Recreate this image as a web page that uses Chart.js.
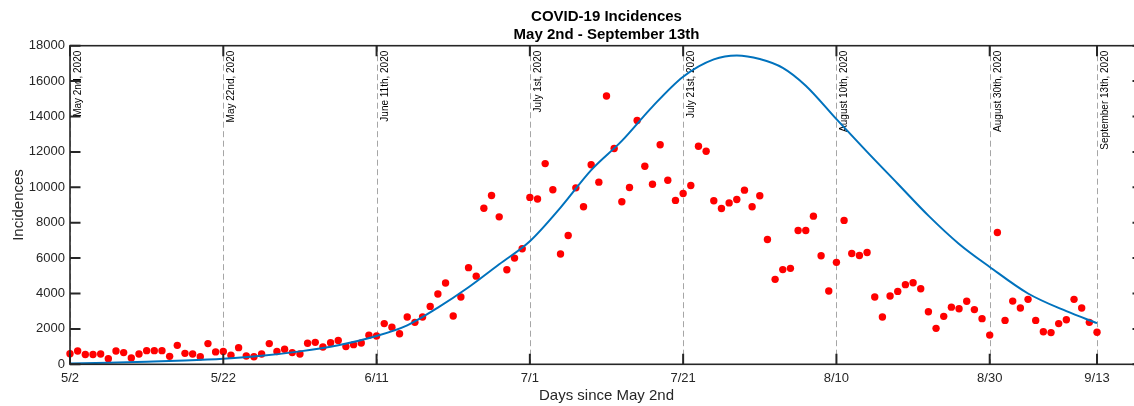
<!DOCTYPE html>
<html>
<head>
<meta charset="utf-8">
<script src="https://cdn.jsdelivr.net/npm/chart.js@4"></script>
<style>
  html, body { margin: 0; padding: 0; overflow: hidden; background: #fff; }
</style>
</head>
<body>
<canvas id="chart" width="1150" height="406"></canvas>
<script>
// daily incidences, day 0 = May 2nd
const incidences = [
    600, 750, 550, 550, 580, 320, 750, 660, 360, 580,
    770, 770, 770, 450, 1070, 620, 580, 430, 1170, 700,
    720, 510, 940, 470, 430, 580, 1170, 720, 850, 660,
    580, 1190, 1240, 980, 1220, 1350, 1000, 1110, 1200, 1640,
    1600, 2300, 2100, 1730, 2670, 2370, 2670, 3270, 3970, 4590,
    2730, 3800, 5460, 4980, 8820, 9540, 8330, 5340, 6000, 6530,
    9430, 9340, 11340, 9860, 6230, 7280, 9970, 8900, 11270, 10290,
    15160, 12190, 9180, 9990, 13770, 11190, 10170, 12400, 10400, 9260,
    9650, 10100, 12320, 12040, 9240, 8800, 9120, 9310, 9840, 8900,
    9520, 7050, 4800, 5350, 5420, 7560, 7560, 8370, 6130, 4140,
    5760, 8130, 6260, 6150, 6320, 3800, 2670, 3860, 4120, 4500,
    4610, 4270, 2970, 2030, 2710, 3230, 3140, 3560, 3090, 2580,
    1650, 7450, 2480, 3570, 3180, 3670, 2480, 1840, 1790, 2300,
    2520, 3670, 3180, 2370, 1810
]

// fitted curve
const curveDays = [0, 5, 10, 15, 20, 25, 30, 35, 40, 44, 48, 52, 56, 60, 64, 68, 72, 76, 80, 84, 87, 90, 93, 96, 100, 104, 108, 112, 116, 120, 125, 130, 134]
const curveValues = [50, 90, 150, 220, 320, 480, 730, 1080, 1600, 2200, 3200, 4350, 5650, 6950, 8850, 10970, 12620, 14560, 16250, 17230, 17450, 17250, 16750, 15740, 13850, 12000, 10200, 8400, 6800, 5500, 4000, 3000, 2330]

const tickDays = [0, 20, 40, 60, 80, 100, 120, 134]
const tickLabels = ['5/2', '5/22', '6/11', '7/1', '7/21', '8/10', '8/30', '9/13']
const eventLabels = ['May 2nd, 2020', 'May 22nd, 2020', 'June 11th, 2020', 'July 1st, 2020',
    'July 21st, 2020', 'August 10th, 2020', 'August 30th, 2020', 'September 13th, 2020']
const yTicks = [0, 2000, 4000, 6000, 8000, 10000, 12000, 14000, 16000, 18000]

const FONT = 'Helvetica, Arial, "Liberation Sans", sans-serif'
const AXIS = '#262626'

const matlabAxes = {
    id: 'matlabAxes',
    beforeDatasetsDraw(chart) {
        const { ctx, chartArea: a, scales: { x } } = chart
        ctx.save()
        ctx.strokeStyle = '#a6a6a6'
        ctx.lineWidth = 1
        ctx.setLineDash([6, 3.5])
        tickDays.forEach(d => {
            const px = Math.round(x.getPixelForValue(d)) + 0.5
            ctx.beginPath()
            ctx.moveTo(px, a.top)
            ctx.lineTo(px, a.bottom)
            ctx.stroke()
        })
        ctx.setLineDash([])
        ctx.fillStyle = '#000'
        ctx.font = '10px ' + FONT
        ctx.textAlign = 'right'
        ctx.textBaseline = 'alphabetic'
        tickDays.forEach((d, i) => {
            const px = x.getPixelForValue(d)
            ctx.save()
            ctx.translate(px + 11, a.top + 5)
            ctx.rotate(-Math.PI / 2)
            ctx.fillText(eventLabels[i], 0, 0)
            ctx.restore()
        })
        ctx.restore()
    },
    afterDraw(chart) {
        const { ctx, chartArea: a, scales: { x, y } } = chart
        ctx.save()
        ctx.strokeStyle = AXIS
        ctx.lineWidth = 1.6
        ctx.strokeRect(a.left, a.top, a.right - a.left, a.bottom - a.top)
        ctx.lineWidth = 2
        const t = 10.5
        tickDays.forEach(d => {
            const px = x.getPixelForValue(d)
            ctx.beginPath()
            ctx.moveTo(px, a.bottom); ctx.lineTo(px, a.bottom - t)
            ctx.moveTo(px, a.top); ctx.lineTo(px, a.top + t)
            ctx.stroke()
        })
        yTicks.forEach(v => {
            const py = y.getPixelForValue(v)
            ctx.beginPath()
            ctx.moveTo(a.left, py); ctx.lineTo(a.left + t, py)
            ctx.moveTo(a.right, py); ctx.lineTo(a.right - t, py)
            ctx.stroke()
        })

        const cx = (a.left + a.right) / 2
        ctx.fillStyle = '#000'
        ctx.textAlign = 'center'
        ctx.textBaseline = 'middle'
        ctx.font = 'bold 15px ' + FONT
        ctx.fillText('COVID-19 Incidences', cx, 17)
        ctx.fillText('May 2nd - September 13th', cx, 35)

        ctx.fillStyle = AXIS
        ctx.font = '15px ' + FONT
        ctx.fillText('Days since May 2nd', cx, 396)
        ctx.save()
        ctx.translate(19, (a.top + a.bottom) / 2)
        ctx.rotate(-Math.PI / 2)
        ctx.fillText('Incidences', 0, 0)
        ctx.restore()
        ctx.restore()
    }
}

const Ctx = document.getElementById('chart').getContext('2d')

new Chart(Ctx, {
    type: 'scatter',
    data: {
        datasets: [
            {
                label: 'Fit',
                data: curveDays.map((d, i) => ({ x: d, y: curveValues[i] })),
                showLine: true,
                borderColor: '#0072BD',
                borderWidth: 2,
                pointRadius: 0,
                cubicInterpolationMode: 'monotone',
                fill: false
            },
            {
                label: 'Incidences',
                data: incidences.map((v, i) => ({ x: i, y: v })),
                showLine: false,
                pointRadius: 3.7,
                pointBorderWidth: 0,
                backgroundColor: '#ff0000',
                borderColor: '#ff0000',
                clip: false
            }
        ]
    },
    options: {
        responsive: false,
        animation: false,
        layout: {
            padding: { left: 0, top: 45.7, right: 7, bottom: 0 }
        },
        scales: {
            x: {
                type: 'linear',
                min: 0,
                max: 140,
                grid: { display: false, drawTicks: false },
                border: { display: false },
                afterBuildTicks: scale => {
                    scale.ticks = tickDays.map(v => ({ value: v }))
                },
                afterFit: scale => { scale.height = 41.7 },
                ticks: {
                    autoSkip: false,
                    maxRotation: 0,
                    padding: 6,
                    color: AXIS,
                    font: { family: FONT, size: 13 },
                    callback: function (value) {
                        const i = tickDays.indexOf(value)
                        return i >= 0 ? tickLabels[i] : ''
                    }
                }
            },
            y: {
                min: 0,
                max: 18000,
                grid: { display: false, drawTicks: false },
                border: { display: false },
                afterBuildTicks: scale => {
                    scale.ticks = yTicks.map(v => ({ value: v }))
                },
                afterFit: scale => { scale.width = 70 },
                ticks: {
                    padding: 5,
                    color: AXIS,
                    font: { family: FONT, size: 13 },
                    callback: value => String(value)
                }
            }
        },
        plugins: {
            legend: { display: false },
            tooltip: { enabled: false },
            title: { display: false }
        }
    },
    plugins: [matlabAxes]
})
</script>
</body>
</html>
